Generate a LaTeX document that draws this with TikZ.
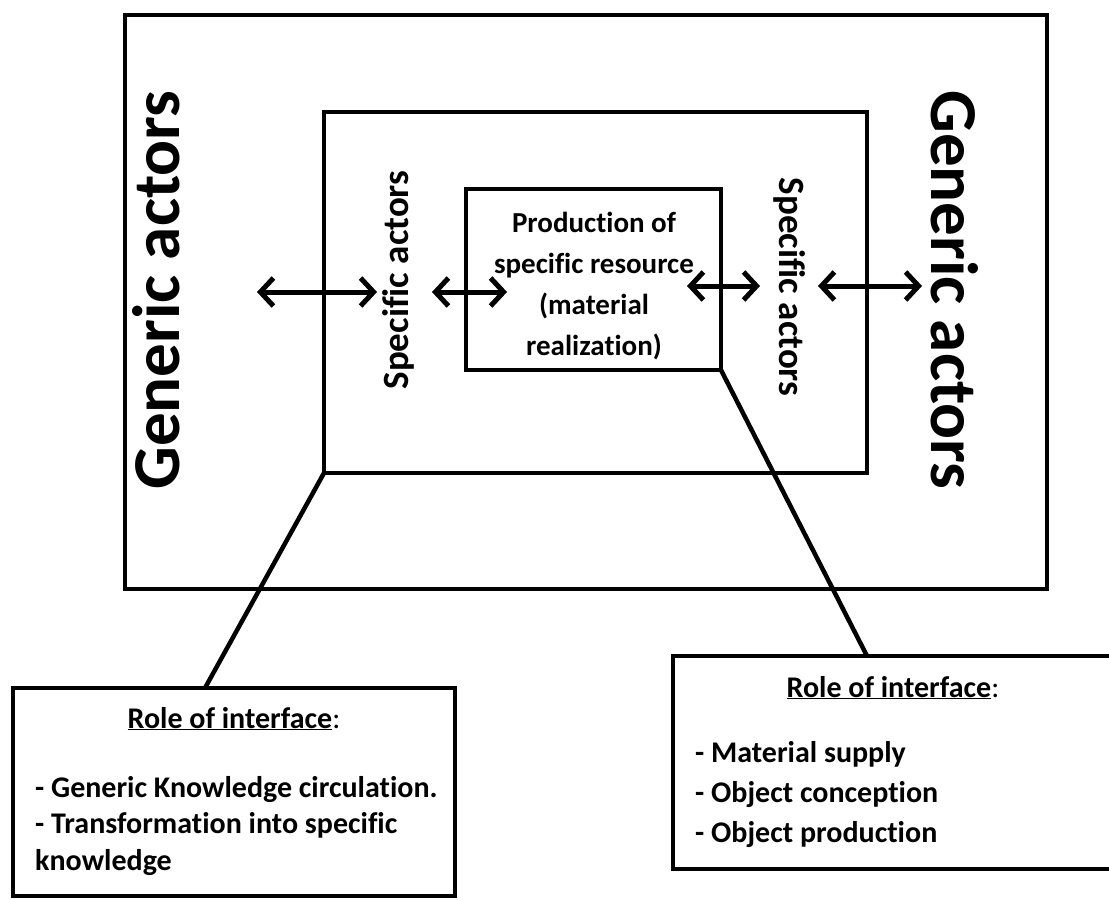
\documentclass[tikz,border=0pt]{standalone}
\usepackage{fontspec}
\setmainfont{Carlito}[Ligatures=NoCommon]
\usetikzlibrary{arrows.meta,positioning}

\tikzset{
  frame/.style={line width=4.5pt,line join=miter},
  link/.style={line width=5pt,<->,>={Straight Barb[length=13pt,width=28pt]}},
  bigtext/.style={font=\fontsize{67}{80}\selectfont\bfseries,inner sep=0pt},
  midtext/.style={font=\fontsize{37}{44}\selectfont\bfseries,inner sep=0pt},
  coretext/.style={font=\fontsize{29}{41}\selectfont\bfseries,align=center,inner sep=0pt},
  roletext/.style={font=\fontsize{30}{36}\selectfont\bfseries,inner sep=0pt,anchor=base west},
}

\begin{document}
\begin{tikzpicture}[x=1pt,y=-1pt]
\useasboundingbox (0,0) rectangle (1109,900);
% nested boxes
\coordinate (outerNW) at (125,15);  \coordinate (outerSE) at (1047,589);
\coordinate (midNW) at (324,112);   \coordinate (midSE) at (867,473);
\coordinate (coreNW) at (466,189);  \coordinate (coreSE) at (721,370);
\draw[frame] (outerNW) rectangle (outerSE);
\draw[frame] (midNW) rectangle (midSE);
\draw[frame] (coreNW) rectangle (coreSE);
\coordinate (midSW) at (midNW |- midSE);
% labels
\node[bigtext,rotate=90] (genL) at (156,290) {Generic actors};
\node[bigtext,rotate=-90] (genR) at (955,290) {Generic actors};
\node[midtext,rotate=90] (specL) at (398,280) {Specific actors};
\node[midtext,rotate=-90] (specR) at (790,287) {Specific actors};
\node[coretext] (core) at (594,286) {Production of\\specific resource\\(material\\realization)};
% exchanges
\coordinate (a1) at (257,292); \coordinate (b1) at (377,292);
\coordinate (a2) at (432,292); \coordinate (b2) at (507,292);
\coordinate (a3) at (687,286); \coordinate (b3) at (760,286);
\coordinate (a4) at (818,286); \coordinate (b4) at (922,286);
\foreach \s/\e in {a1/b1,a2/b2,a3/b3,a4/b4}
  \draw[link] (\s) -- (\e);
% callout boxes
\coordinate (callLNW) at (13,688);  \coordinate (callLSE) at (455,896);
\coordinate (callRNW) at (673,656); \coordinate (callRSE) at (1125,869);
\draw[frame] (callLNW) rectangle (callLSE);
\draw[frame] (callRNW) rectangle (callRSE);
\coordinate (callLtop) at (205,688);
\coordinate (callRtop) at (867,656);
\draw[frame] (midSW) -- (callLtop);
\draw[frame] (coreSE) -- (callRtop);
% callout texts
\node[roletext,anchor=base] (roleL) at (234,728) {\underline{Role of interface}{\mdseries:}};
\node[roletext] (itemL1) at (35,797) {- Generic Knowledge circulation.};
\node[roletext] (itemL2) at (35,833) {- Transformation into specific};
\node[roletext] (itemL3) at (35,870) {knowledge};
\node[roletext,anchor=base] (roleR) at (893,697) {\underline{Role of interface}{\mdseries:}};
\node[roletext] (itemR1) at (695,762) {- Material supply};
\node[roletext] (itemR2) at (695,802) {- Object conception};
\node[roletext] (itemR3) at (695,842) {- Object production};
\end{tikzpicture}
\end{document}
